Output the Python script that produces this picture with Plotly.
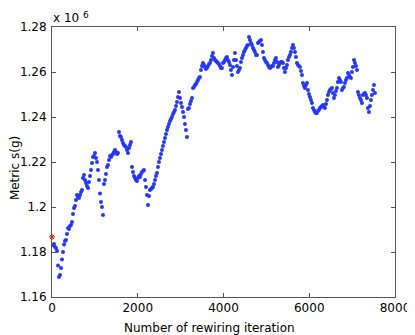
import plotly.graph_objects as go

# rewiring iteration number of each sampled point
iterations = [
    23, 47, 70, 93, 117, 140, 163, 187, 210, 233,
    257, 280, 303, 326, 350, 373, 396, 420, 443, 466,
    490, 513, 536, 560, 583, 606, 630, 653, 676, 700,
    723, 746, 770, 793, 816, 840, 863, 886, 909, 933,
    956, 979, 1003, 1026, 1049, 1073, 1096, 1119, 1143, 1166,
    1189, 1213, 1236, 1259, 1283, 1306, 1329, 1353, 1376, 1399,
    1423, 1446, 1469, 1492, 1516, 1539, 1562, 1586, 1609, 1632,
    1656, 1679, 1702, 1726, 1749, 1772, 1796, 1819, 1842, 1866,
    1889, 1912, 1935, 1959, 1982, 2005, 2029, 2052, 2075, 2099,
    2122, 2145, 2169, 2192, 2215, 2239, 2262, 2285, 2309, 2332,
    2355, 2379, 2402, 2425, 2449, 2472, 2495, 2518, 2542, 2565,
    2588, 2612, 2635, 2658, 2682, 2705, 2728, 2752, 2775, 2798,
    2822, 2845, 2868, 2892, 2915, 2938, 2962, 2985, 3008, 3032,
    3055, 3078, 3101, 3125, 3148, 3171, 3195, 3218, 3241, 3265,
    3288, 3311, 3335, 3358, 3381, 3405, 3428, 3451, 3475, 3498,
    3521, 3545, 3568, 3591, 3615, 3638, 3661, 3684, 3708, 3731,
    3754, 3778, 3801, 3824, 3848, 3871, 3894, 3918, 3941, 3964,
    3988, 4011, 4034, 4058, 4081, 4104, 4128, 4151, 4174, 4198,
    4221, 4244, 4267, 4291, 4314, 4337, 4361, 4384, 4407, 4431,
    4454, 4477, 4501, 4524, 4547, 4571, 4594, 4617, 4641, 4664,
    4687, 4711, 4734, 4757, 4781, 4804, 4827, 4850, 4874, 4897,
    4920, 4944, 4967, 4990, 5014, 5037, 5060, 5084, 5107, 5130,
    5154, 5177, 5200, 5224, 5247, 5270, 5294, 5317, 5340, 5364,
    5387, 5410, 5433, 5457, 5480, 5503, 5527, 5550, 5573, 5597,
    5620, 5643, 5667, 5690, 5713, 5737, 5760, 5783, 5807, 5830,
    5853, 5877, 5900, 5923, 5947, 5970, 5993, 6016, 6040, 6063,
    6086, 6110, 6133, 6156, 6180, 6203, 6226, 6250, 6273, 6296,
    6320, 6343, 6366, 6390, 6413, 6436, 6460, 6483, 6506, 6530,
    6553, 6576, 6599, 6623, 6646, 6669, 6693, 6716, 6739, 6763,
    6786, 6809, 6833, 6856, 6879, 6903, 6926, 6949, 6973, 6996,
    7019, 7043, 7066, 7089, 7113, 7136, 7159, 7182, 7206, 7229,
    7252, 7276, 7299, 7322, 7346, 7369, 7392, 7416, 7439, 7462,
    7486, 7509, 7532,
]

# metric s(g), in units of 1e6
metric_e6 = [
    1.1831, 1.1836, 1.1822, 1.1818, 1.1804, 1.1740, 1.1689, 1.1698, 1.1729, 1.1767,
    1.1800, 1.1833, 1.1849, 1.1853, 1.1880, 1.1907, 1.1902, 1.1916, 1.1920, 1.1933,
    1.1969, 1.1996, 1.2004, 1.2031, 1.2053, 1.2044, 1.2040, 1.2053, 1.2067, 1.2076,
    1.2129, 1.2142, 1.2120, 1.2107, 1.2093, 1.2084, 1.2111, 1.2138, 1.2164, 1.2196,
    1.2222, 1.2227, 1.2240, 1.2218, 1.2200, 1.2164, 1.2120, 1.2060, 1.2022, 1.2000,
    1.1964, 1.2102, 1.2120, 1.2147, 1.2178, 1.2187, 1.2209, 1.2227, 1.2222, 1.2231,
    1.2236, 1.2244, 1.2253, 1.2244, 1.2236, 1.2240, 1.2333, 1.2316, 1.2311, 1.2298,
    1.2284, 1.2276, 1.2271, 1.2267, 1.2253, 1.2240, 1.2262, 1.2276, 1.2289, 1.2178,
    1.2156, 1.2138, 1.2129, 1.2120, 1.2116, 1.2129, 1.2138, 1.2133, 1.2147, 1.2156,
    1.2160, 1.2164, 1.2120, 1.2089, 1.2053, 1.2009, 1.2049, 1.2076, 1.2080, 1.2084,
    1.2089, 1.2102, 1.2120, 1.2138, 1.2151, 1.2178, 1.2200, 1.2218, 1.2236, 1.2253,
    1.2271, 1.2289, 1.2307, 1.2324, 1.2342, 1.2356, 1.2369, 1.2382, 1.2391, 1.2400,
    1.2413, 1.2422, 1.2431, 1.2449, 1.2467, 1.2489, 1.2511, 1.2484, 1.2462, 1.2444,
    1.2422, 1.2400, 1.2369, 1.2342, 1.2311, 1.2436, 1.2440, 1.2458, 1.2471, 1.2484,
    1.2529, 1.2533, 1.2542, 1.2547, 1.2556, 1.2564, 1.2573, 1.2578, 1.2609, 1.2627,
    1.2640, 1.2631, 1.2622, 1.2613, 1.2618, 1.2627, 1.2636, 1.2640, 1.2653, 1.2671,
    1.2684, 1.2662, 1.2653, 1.2649, 1.2644, 1.2640, 1.2636, 1.2627, 1.2618, 1.2618,
    1.2640, 1.2644, 1.2653, 1.2662, 1.2667, 1.2653, 1.2644, 1.2631, 1.2609, 1.2587,
    1.2622, 1.2653, 1.2684, 1.2653, 1.2627, 1.2600, 1.2609, 1.2618, 1.2644, 1.2662,
    1.2676, 1.2689, 1.2698, 1.2707, 1.2716, 1.2720, 1.2756, 1.2742, 1.2729, 1.2720,
    1.2707, 1.2698, 1.2689, 1.2676, 1.2676, 1.2729, 1.2733, 1.2738, 1.2742, 1.2720,
    1.2689, 1.2662, 1.2653, 1.2644, 1.2640, 1.2631, 1.2622, 1.2618, 1.2622, 1.2627,
    1.2627, 1.2640, 1.2653, 1.2662, 1.2644, 1.2622, 1.2631, 1.2640, 1.2644, 1.2644,
    1.2640, 1.2618, 1.2600, 1.2618, 1.2631, 1.2653, 1.2667, 1.2676, 1.2689, 1.2707,
    1.2720, 1.2707, 1.2689, 1.2667, 1.2640, 1.2631, 1.2627, 1.2622, 1.2604, 1.2587,
    1.2551, 1.2538, 1.2529, 1.2542, 1.2551, 1.2520, 1.2502, 1.2489, 1.2476, 1.2462,
    1.2440, 1.2431, 1.2422, 1.2418, 1.2418, 1.2427, 1.2431, 1.2440, 1.2444, 1.2449,
    1.2453, 1.2444, 1.2440, 1.2458, 1.2476, 1.2498, 1.2511, 1.2520, 1.2524, 1.2529,
    1.2507, 1.2484, 1.2498, 1.2516, 1.2529, 1.2556, 1.2573, 1.2564, 1.2556, 1.2520,
    1.2529, 1.2533, 1.2551, 1.2564, 1.2573, 1.2596, 1.2587, 1.2578, 1.2573, 1.2600,
    1.2622, 1.2653, 1.2640, 1.2627, 1.2609, 1.2511, 1.2498, 1.2484, 1.2476, 1.2462,
    1.2498, 1.2502, 1.2507, 1.2498, 1.2484, 1.2440, 1.2422, 1.2449, 1.2476, 1.2498,
    1.2520, 1.2542, 1.2507,
]

# starting value (red star)
start_iteration = [0]
start_metric_e6 = [1.1867]

x_ticks = [0, 2000, 4000, 6000, 8000]
y_ticks = [1.16, 1.18, 1.20, 1.22, 1.24, 1.26, 1.28]
y_tick_labels = ['1.16', '1.18', '1.2', '1.22', '1.24', '1.26', '1.28']

font_family = 'DejaVu Sans'
axis_color = '#555555'

fig = go.Figure()

fig.add_trace(go.Scatter(
    x=iterations,
    y=metric_e6,
    mode='markers',
    marker=dict(color='rgb(35,55,255)', size=4, line=dict(width=0)),
    showlegend=False,
))

fig.add_trace(go.Scatter(
    x=start_iteration,
    y=start_metric_e6,
    mode='markers',
    marker=dict(symbol='asterisk-open', color='red', size=5,
                line=dict(color='red', width=1)),
    cliponaxis=False,
    showlegend=False,
))

axis_style = dict(
    showgrid=False,
    zeroline=False,
    showline=True,
    linecolor=axis_color,
    linewidth=1,
    mirror='allticks',
    ticks='inside',
    ticklen=4,
    tickcolor=axis_color,
    tickfont=dict(family=font_family, size=12, color='black'),
)

fig.update_xaxes(range=[0, 8000], tickvals=x_ticks, **axis_style)
fig.update_yaxes(range=[1.16, 1.28], tickvals=y_ticks,
                 ticktext=y_tick_labels, ticklabelstandoff=2, **axis_style)

# the page body adds an 8px offset, so margins are shifted to compensate
fig.update_layout(
    width=415,
    height=335,
    margin=dict(l=44, r=28, t=19, b=46),
    paper_bgcolor='white',
    plot_bgcolor='white',
    font=dict(family=font_family, size=12, color='black'),
    annotations=[
        dict(text='Number of rewiring iteration', xref='paper', yref='paper',
             x=0.46, y=-0.115, xanchor='center', yanchor='middle',
             showarrow=False),
        dict(text='Metric s(g)', xref='paper', yref='paper',
             x=-0.106, y=0.476, textangle=-90, xanchor='center',
             yanchor='middle', showarrow=False),
        dict(text='x 10', xref='paper', yref='paper', x=-0.003, y=1.0,
             xanchor='left', yanchor='bottom', showarrow=False),
        dict(text='6', xref='paper', yref='paper', x=0.085, y=1.07,
             xanchor='left', yanchor='top', showarrow=False,
             font=dict(size=9)),
    ],
)

fig.write_html('out.html')
